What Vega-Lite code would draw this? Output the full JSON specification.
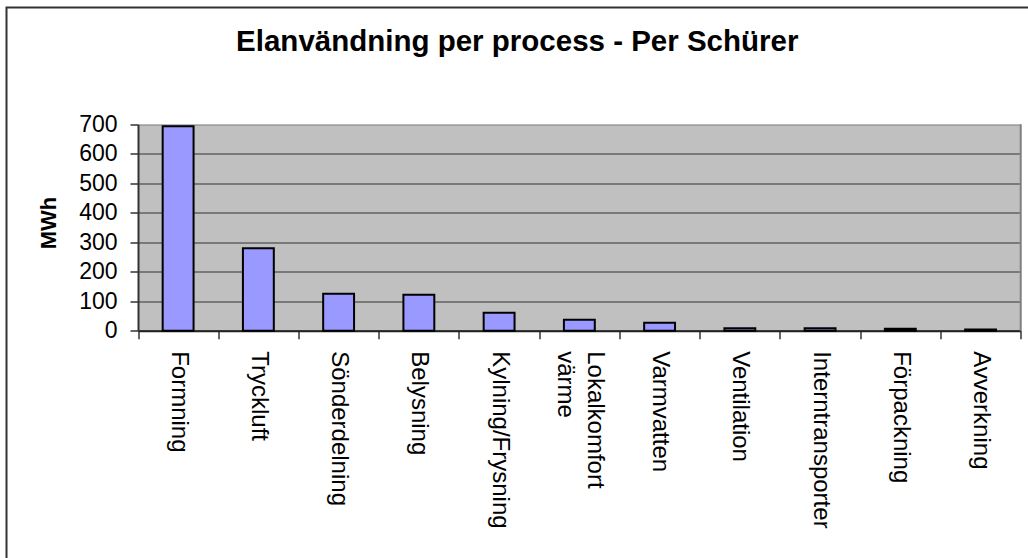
{
  "$schema": "https://vega.github.io/schema/vega-lite/v6.json",
  "width": 1021.5,
  "height": 550.5,
  "autosize": {"type": "none"},
  "padding": {"left": 6.5, "top": 7.5, "right": 0, "bottom": 0},
  "background": "white",
  "title": {
    "text": "Elanvändning per process - Per Schürer",
    "font": "Liberation Sans",
    "fontSize": 29.5,
    "fontWeight": "bold",
    "color": "black",
    "anchor": "middle",
    "frame": "group",
    "baseline": "alphabetic",
    "offset": -73.3
  },
  "data": {
    "values": [
      {"process": "Formning", "mwh": 693},
      {"process": "Tryckluft", "mwh": 280},
      {"process": "Sönderdelning", "mwh": 125},
      {"process": "Belysning", "mwh": 122},
      {"process": "Kylning/Frysning", "mwh": 61},
      {"process": "Lokalkomfort värme", "mwh": 37},
      {"process": "Varmvatten", "mwh": 27},
      {"process": "Ventilation", "mwh": 8},
      {"process": "Interntransporter", "mwh": 8},
      {"process": "Förpackning", "mwh": 7},
      {"process": "Avverkning", "mwh": 4}
    ]
  },
  "layer": [
    {
      "data": {"values": [{"edge": "plot right"}]},
      "mark": {"type": "rule", "color": "#808080", "strokeWidth": 2},
      "encoding": {
        "x": {"datum": "Avverkning", "type": "nominal", "bandPosition": 1, "title": null},
        "y": {
          "datum": 0,
          "type": "quantitative",
          "scale": {"domain": [0, 700], "range": [323.2, 116.8], "nice": false, "zero": true},
          "axis": {
            "orient": "left",
            "offset": -131.5,
            "title": null,
            "domain": false,
            "ticks": false,
            "labels": false,
            "grid": true,
            "values": [350],
            "gridColor": "#C0C0C0",
            "gridOpacity": 1,
            "gridWidth": 206.4
          }
        },
        "y2": {"datum": 700}
      }
    },
    {
      "mark": {"type": "bar", "fill": "#9999FF", "stroke": "black", "strokeWidth": 2, "width": {"band": 0.385}},
      "encoding": {
        "x": {
          "field": "process",
          "type": "nominal",
          "sort": null,
          "scale": {
            "domain": ["Formning", "Tryckluft", "Sönderdelning", "Belysning", "Kylning/Frysning", "Lokalkomfort värme", "Varmvatten", "Ventilation", "Interntransporter", "Förpackning", "Avverkning"],
            "range": [131.5, 1014.2],
            "paddingInner": 0,
            "paddingOuter": 0
          },
          "axis": {
            "title": null,
            "orient": "bottom",
            "offset": -227.3,
            "tickBand": "extent",
            "tickSize": 8,
            "tickColor": "#333",
            "tickWidth": 1.5,
            "domainColor": "#222",
            "domainWidth": 2,
            "labelAngle": 90,
            "labelAlign": "left",
            "labelBaseline": "middle",
            "labelPadding": 12,
            "labelFont": "Liberation Sans",
            "labelFontSize": 24,
            "labelColor": "black",
            "labelLimit": 400,
            "labelLineHeight": 30,
            "labelOverlap": false,
            "labelOffset": {"condition": {"test": "datum.value == 'Lokalkomfort värme'", "value": 15}, "value": 0},
            "labelExpr": "datum.value == 'Lokalkomfort värme' ? ['Lokalkomfort', 'värme'] : datum.label"
          }
        },
        "y": {
          "field": "mwh",
          "type": "quantitative",
          "scale": {"domain": [0, 700], "range": [323.2, 116.8], "nice": false, "zero": true},
          "axis": {
            "orient": "left",
            "offset": -131.5,
            "values": [0, 100, 200, 300, 400, 500, 600, 700],
            "grid": true,
            "gridColor": {"condition": {"test": "datum.value === 700", "value": "#808080"}, "value": "#333"},
            "gridOpacity": 1,
            "gridWidth": 1.2,
            "domainColor": "#333",
            "domainWidth": 2,
            "tickSize": 8,
            "tickColor": "#333",
            "tickWidth": 1.5,
            "labelPadding": 13,
            "labelFont": "Liberation Sans",
            "labelFontSize": 23,
            "labelColor": "black",
            "title": "MWh",
            "titleFont": "Liberation Sans",
            "titleFontSize": 22,
            "titleFontWeight": "bold",
            "titleColor": "black",
            "titleAngle": -90,
            "titleAlign": "center",
            "titleBaseline": "middle",
            "titleX": -90,
            "titleY": 215
          }
        }
      }
    }
  ],
  "resolve": {"axis": {"y": "independent"}},
  "config": {
    "view": {"stroke": "#333", "strokeWidth": 2, "fill": "white", "strokeDash": [1021.5, 1572, 550.5]}
  }
}
